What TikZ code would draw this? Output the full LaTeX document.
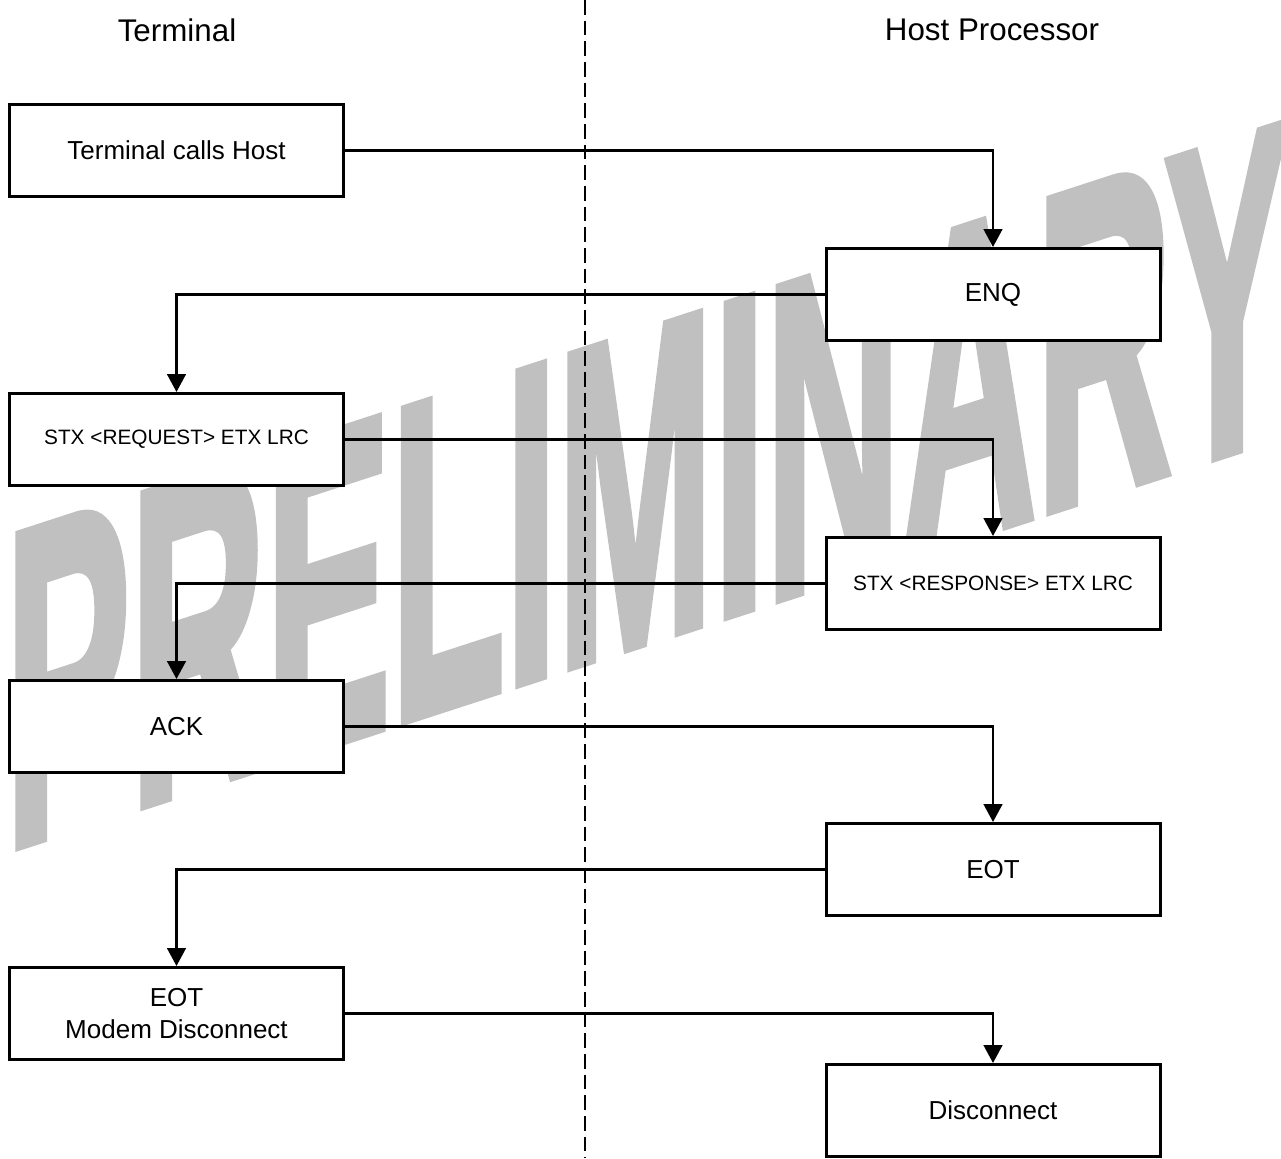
\documentclass[tikz,border=0pt]{standalone}
\usepackage{fontspec}
\setmainfont{Liberation Sans}
\newfontfamily\wmfont[FakeBold=2.5]{Liberation Sans Bold}
\usepackage{tikz}
\usetikzlibrary{arrows.meta, positioning}
\definecolor{wmgray}{RGB}{192,192,192}

\begin{document}
\begin{tikzpicture}[x=0.75pt, y=-0.75pt,
		box/.style={draw, line width=2.25pt, fill=white, minimum width=250.5pt, minimum height=69pt, align=center, font=\fontsize{19.5}{24}\selectfont},
		small/.style={font=\fontsize{15.6}{19}\selectfont},
		flow/.style={line width=2pt, -{Triangle[length=13.5pt, width=14pt]}},
		head/.style={font=\fontsize{23.5}{28}\selectfont}]
				\useasboundingbox (0, 0) rectangle (1281, 1158);

				\begin{scope}[shift={(5, 850)}, yslant=0.325]
					\node[transform shape, anchor=south west, inner sep=0pt, text=wmgray] (watermark) at (0, 0) {\resizebox{963pt}{232pt}{\wmfont PRELIMINARY}};
				\end{scope}

				\coordinate (divtop) at (585, 0);
				\coordinate (divbot) at (585, 1158);
				\draw[line width=1.2pt, dash pattern=on 11pt off 4.5pt] (divtop) -- (divbot);

				\node[head] (terminal) at (177, 30) {Terminal};
				\node[head] (host) at (992, 30) {Host Processor};

				\node[box] (calls) at (176.5, 150.5) {Terminal calls Host};
				\node[box] (enq) at (993, 294.5) {ENQ};
				\node[box, small] (request) at (176.5, 439.5) {STX <REQUEST> ETX LRC};
				\node[box, small] (response) at (993, 583.5) {STX <RESPONSE> ETX LRC};
				\node[box] (ack) at (176.5, 726.5) {ACK};
				\node[box] (eot) at (993, 869.5) {EOT};
				\node[box] (eotmodem) at (176.5, 1013.5) {EOT\\Modem Disconnect};
				\node[box] (disconnect) at (993, 1110.5) {Disconnect};

				\draw[flow] (calls.east) -| (enq.north);
				\draw[flow] (enq.west) -| (request.north);
				\draw[flow] (request.east) -| (response.north);
				\draw[flow] (response.west) -| (ack.north);
				\draw[flow] (ack.east) -| (eot.north);
				\draw[flow] (eot.west) -| (eotmodem.north);
				\draw[flow] (eotmodem.east) -| (disconnect.north);

			\end{tikzpicture}
\end{document}
